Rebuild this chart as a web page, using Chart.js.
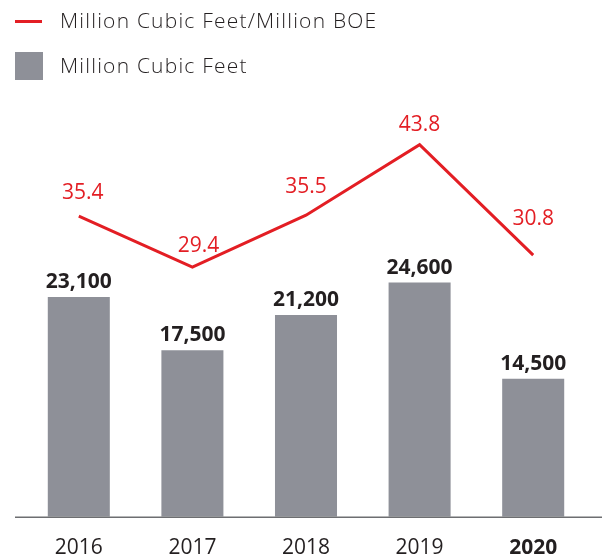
<!DOCTYPE html>
<html>
<head>
<meta charset="utf-8">
<script src="https://cdn.jsdelivr.net/npm/chart.js@4.4.1/dist/chart.umd.min.js"></script>
<style>
  html, body { margin: 0; padding: 0; background: #fff; }
  #wrap { position: relative; width: 602px; height: 559px; }
  canvas { position: absolute; left: 0; top: 0; }
  .legend { position: absolute; left: 0; top: 0; font-family: "Open Sans", sans-serif; font-weight: 300; font-size: 21px; letter-spacing: 1.2px; color: #231f20; }
  .item { position: absolute; left: 15px; white-space: nowrap; }
  .item span.t { position: absolute; left: 45px; top: 0; }
  .line-mark { position: absolute; left: 0; width: 27px; height: 3px; background: #e31e24; }
  .box-mark { position: absolute; left: 0; width: 28px; height: 28px; background: #8e9098; }
</style>
</head>
<body>
<div id="wrap">
  <canvas id="c" width="602" height="559"></canvas>
  <div class="legend">
    <div class="item" style="top:6px;"><div class="line-mark" style="top:14px;"></div><span class="t">Million Cubic Feet/Million BOE</span></div>
    <div class="item" style="top:52px;"><div class="box-mark" style="top:0px;"></div><span class="t" style="top:-1px;">Million Cubic Feet</span></div>
  </div>
</div>
<script>
const categories = ["2016", "2017", "2018", "2019", "2020"];
const volumeMMcf = [23100, 17500, 21200, 24600, 14500];
const ratioMMcfPerMMBOE = [35.4, 29.4, 35.5, 43.8, 30.8];
const barLabels = ["23,100", "17,500", "21,200", "24,600", "14,500"];
const lineLabels = ["35.4", "29.4", "35.5", "43.8", "30.8"];

// label placement style (pixel offsets from each point)
const lineLabelDx = [4, 6, 0, 0, 0];
const lineLabelDy = [17, 15, 22, 14, 30];

const RED = "#e31e24";
const GRAY = "#8e9098";

const labelPlugin = {
  id: "labels",
  afterDatasetsDraw(chart) {
    const ctx = chart.ctx;
    ctx.save();
    ctx.textAlign = "center";
    ctx.textBaseline = "alphabetic";
    const bm = chart.getDatasetMeta(1);
    ctx.fillStyle = "#231f20";
    ctx.font = "bold 21px 'Open Sans', sans-serif";
    bm.data.forEach((el, i) => {
      ctx.fillText(barLabels[i], el.x, el.y - 9);
    });
    const lm = chart.getDatasetMeta(0);
    ctx.fillStyle = RED;
    ctx.font = "21px 'Open Sans', sans-serif";
    lm.data.forEach((el, i) => {
      ctx.fillText(lineLabels[i], el.x + lineLabelDx[i], el.y - lineLabelDy[i]);
    });
    const ys = chart.scales.y;
    const yb = ys.getPixelForValue(0);
    ctx.strokeStyle = "#6d6e71";
    ctx.lineWidth = 1.5;
    ctx.beginPath();
    ctx.moveTo(15, yb + 0.5);
    ctx.lineTo(chart.width, yb + 0.5);
    ctx.stroke();
    ctx.restore();
  }
};

new Chart(document.getElementById("c"), {
  data: {
    labels: categories,
    datasets: [
      {
        type: "line",
        label: "Million Cubic Feet/Million BOE",
        data: ratioMMcfPerMMBOE,
        yAxisID: "y1",
        borderColor: RED,
        borderWidth: 3,
        pointRadius: 0,
        tension: 0,
        order: 0
      },
      {
        type: "bar",
        label: "Million Cubic Feet",
        data: volumeMMcf,
        yAxisID: "y",
        backgroundColor: GRAY,
        categoryPercentage: 1,
        barPercentage: 0.546,
        order: 1
      }
    ]
  },
  options: {
    responsive: false,
    animation: false,
    layout: { padding: { left: 22, right: 12, top: 92, bottom: -21 } },
    plugins: { legend: { display: false }, tooltip: { enabled: false } },
    scales: {
      x: {
        grid: { display: false, drawTicks: false },
        border: { display: false },
        ticks: {
          padding: 19,
          color: "#231f20",
          font: (c) => ({ family: "'Open Sans', sans-serif", size: 21, weight: c.index === 4 ? "bold" : "normal" })
        }
      },
      y: { display: false, min: 0, max: 44625 },
      y1: { display: false, min: 0, max: 50, position: "right" }
    }
  },
  plugins: [labelPlugin]
});
</script>
</body>
</html>
